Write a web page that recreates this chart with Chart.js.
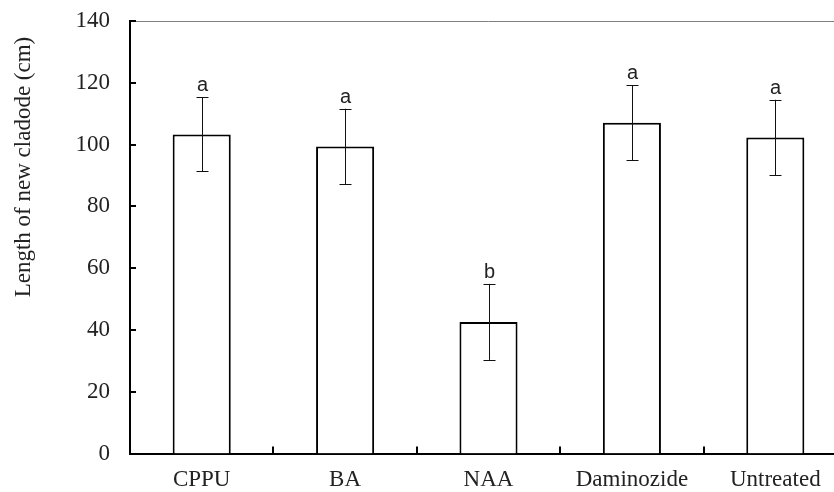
<!DOCTYPE html>
<html lang="en">
<head>
    <meta charset="UTF-8">
    <title>Length of new cladode</title>
    <style>
        body { margin: 0; background: #fff; overflow: hidden; }
        .div_grafico { width: 834px; height: 492px; overflow: hidden; }
    </style>
</head>
<body>
    <div class="div_grafico">
        <canvas id="myChart" width="850" height="492"></canvas>
    </div>

<script src="https://cdn.jsdelivr.net/npm/chart.js"></script>
<script>
    var categorias = ['CPPU', 'BA', 'NAA', 'Daminozide', 'Untreated'];
    var medias = [103.3, 99.4, 42.6, 107.1, 102.3];
    var erros = [12.0, 12.2, 12.3, 12.1, 12.2];
    var letras = ['a', 'a', 'b', 'a', 'a'];
    var ticksY = [0, 20, 40, 60, 80, 100, 120, 140];
    var tituloY = 'Length of new cladode (cm)';

    var fonteSerif = '"Liberation Serif", "Times New Roman", serif';

    // error bars, letters, inward ticks, top line and y title
    var extras = {
        id: 'extras',
        afterDatasetsDraw: function (chart) {
            var ctx = chart.ctx;
            var x = chart.scales.x;
            var y = chart.scales.y;
            var area = chart.chartArea;
            var meta = chart.getDatasetMeta(0);
            ctx.save();

            // top line
            ctx.strokeStyle = '#808080';
            ctx.lineWidth = 1;
            ctx.beginPath();
            ctx.moveTo(area.left, Math.round(area.top) + 0.5);
            ctx.lineTo(area.right, Math.round(area.top) + 0.5);
            ctx.stroke();

            // error bars
            ctx.strokeStyle = '#111';
            ctx.lineWidth = 1;
            for (var i = 0; i < medias.length; i++) {
                var cx = Math.round(meta.data[i].x) + 0.5;
                var yTopo = y.getPixelForValue(medias[i] + erros[i]);
                var yBase = y.getPixelForValue(medias[i] - erros[i]);
                ctx.beginPath();
                ctx.moveTo(cx, yTopo);
                ctx.lineTo(cx, yBase);
                ctx.moveTo(cx - 6, Math.round(yTopo) + 0.5);
                ctx.lineTo(cx + 6, Math.round(yTopo) + 0.5);
                ctx.moveTo(cx - 6, Math.round(yBase) + 0.5);
                ctx.lineTo(cx + 6, Math.round(yBase) + 0.5);
                ctx.stroke();

                ctx.fillStyle = '#222';
                ctx.font = '20px "Liberation Sans", Arial, sans-serif';
                ctx.textAlign = 'center';
                ctx.textBaseline = 'alphabetic';
                ctx.fillText(letras[i], cx, yTopo - 6);
            }

            // inward ticks on y axis
            ctx.strokeStyle = '#000';
            ctx.lineWidth = 2;
            ctx.beginPath();
            for (var t = 0; t < ticksY.length; t++) {
                var ty = Math.round(y.getPixelForValue(ticksY[t]));
                ctx.moveTo(area.left, ty);
                ctx.lineTo(area.left + 6, ty);
            }
            // inward ticks on x axis, between categories
            for (var k = 1; k < categorias.length; k++) {
                var tx = Math.round((x.getPixelForValue(k - 1) + x.getPixelForValue(k)) / 2);
                ctx.moveTo(tx, area.bottom);
                ctx.lineTo(tx, area.bottom - 7);
            }
            ctx.stroke();

            // y axis title
            ctx.translate(24, 167);
            ctx.rotate(-Math.PI / 2);
            ctx.fillStyle = '#222';
            ctx.font = '23px ' + fonteSerif;
            ctx.textAlign = 'center';
            ctx.textBaseline = 'middle';
            ctx.fillText(tituloY, 0, 0);
            ctx.restore();
        }
    };

    const ctx = document.getElementById('myChart');
    new Chart(ctx, {
        type: 'bar',
        data: {
            labels: categorias,
            datasets: [{
                data: medias,
                backgroundColor: '#ffffff',
                borderColor: '#000000',
                borderWidth: 2,
                borderSkipped: 'bottom',
                categoryPercentage: 1,
                barPercentage: 0.405
            }]
        },
        options: {
            responsive: false,
            animation: false,
            layout: {
                padding: { left: 0, right: 3, top: 21, bottom: 0 }
            },
            scales: {
                x: {
                    grid: { display: false, drawTicks: false },
                    border: { display: true, color: '#000', width: 2 },
                    ticks: {
                        color: '#222',
                        padding: 13,
                        font: { family: fonteSerif, size: 23 }
                    },
                    afterFit: function (scale) {
                        scale.height = 38.5;
                        scale.paddingLeft = 0;
                        scale.paddingRight = 0;
                    }
                },
                y: {
                    min: 0,
                    max: 140,
                    grid: { display: false, drawTicks: false },
                    border: { display: true, color: '#000', width: 2 },
                    afterBuildTicks: function (scale) {
                        scale.ticks = ticksY.map(function (v) { return { value: v }; });
                    },
                    ticks: {
                        color: '#222',
                        padding: 20,
                        font: { family: fonteSerif, size: 23 }
                    },
                    afterFit: function (scale) {
                        scale.width = 130;
                        scale.paddingTop = 0;
                        scale.paddingBottom = 0;
                    }
                }
            },
            plugins: {
                legend: { display: false },
                tooltip: { enabled: false }
            }
        },
        plugins: [extras]
    });
</script>
</body>
</html>
